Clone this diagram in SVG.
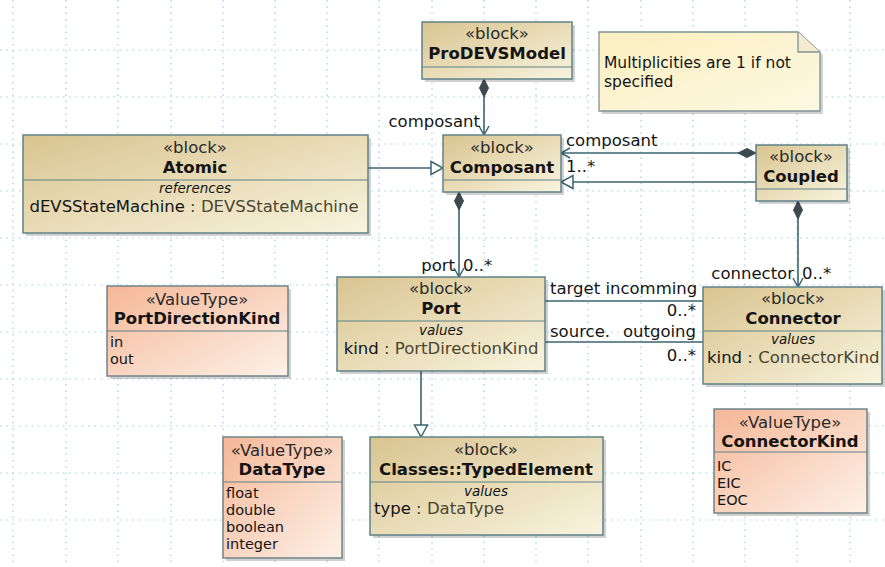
<svg xmlns="http://www.w3.org/2000/svg" width="885" height="567" viewBox="0 0 885 567">
<style>
text{font-family:"DejaVu Sans","Verdana",sans-serif;font-size:16.5px;fill:#141414}
.c{text-anchor:middle}
.e{text-anchor:end}
.b{font-weight:bold}
.st{fill:#2a2a2a}
.it{font-style:italic;font-size:13.5px}
.li{font-size:14.5px}
.nt{font-size:15.5px}
.tp{fill:#4a4632}
.blk{fill:url(#gBlock);stroke:#5f8288;stroke-width:1.5}
.vt{fill:url(#gVT);stroke:#6f8488;stroke-width:1.5}
.sh{fill:#000;opacity:.18}
.dv{stroke:#5f8288;stroke-width:1.2}
.ln{fill:none;stroke:#3b6470;stroke-width:1.6}
.grid line{stroke:#9fcde8;stroke-width:1.2;stroke-dasharray:1.5 4.8}
</style>
<defs>
<linearGradient id="gBlock" x1="0" y1="0" x2="1" y2="1">
<stop offset="0" stop-color="#d9c490"/>
<stop offset="1" stop-color="#f8f4de"/>
</linearGradient>
<linearGradient id="gVT" x1="0" y1="0" x2="1" y2="1">
<stop offset="0" stop-color="#f5b797"/>
<stop offset="1" stop-color="#fdf1e8"/>
</linearGradient>
<linearGradient id="gNote" x1="0" y1="0" x2="1" y2="1">
<stop offset="0" stop-color="#fbefbf"/>
<stop offset="1" stop-color="#fdf8e2"/>
</linearGradient>
<marker id="dia" markerUnits="userSpaceOnUse" orient="auto" refX="0" refY="0" overflow="visible">
<path d="M0,0 L9,-4.5 L18,0 L9,4.5 Z" fill="#3b4a50" stroke="#3b4a50" stroke-width="1"/>
</marker>
<marker id="open" markerUnits="userSpaceOnUse" orient="auto" refX="0" refY="0" overflow="visible">
<path d="M-9,-5 L0,0 L-9,5" fill="none" stroke="#3b6470" stroke-width="1.5"/>
</marker>
<marker id="tri" markerUnits="userSpaceOnUse" orient="auto" refX="0" refY="0" overflow="visible">
<path d="M-12,-6.5 L0,0 L-12,6.5 Z" fill="#ffffff" stroke="#3b6470" stroke-width="1.5"/>
</marker>
</defs>
<rect width="885" height="567" fill="#ffffff"/>
<g class="grid">
<line x1="13" y1="0" x2="13" y2="567"/>
<line x1="66" y1="0" x2="66" y2="567"/>
<line x1="118" y1="0" x2="118" y2="567"/>
<line x1="171" y1="0" x2="171" y2="567"/>
<line x1="223" y1="0" x2="223" y2="567"/>
<line x1="275" y1="0" x2="275" y2="567"/>
<line x1="327" y1="0" x2="327" y2="567"/>
<line x1="379" y1="0" x2="379" y2="567"/>
<line x1="432" y1="0" x2="432" y2="567"/>
<line x1="484" y1="0" x2="484" y2="567"/>
<line x1="536" y1="0" x2="536" y2="567"/>
<line x1="588" y1="0" x2="588" y2="567"/>
<line x1="641" y1="0" x2="641" y2="567"/>
<line x1="693" y1="0" x2="693" y2="567"/>
<line x1="745" y1="0" x2="745" y2="567"/>
<line x1="797" y1="0" x2="797" y2="567"/>
<line x1="850" y1="0" x2="850" y2="567"/>
<line x1="0" y1="50" x2="885" y2="50"/>
<line x1="0" y1="97" x2="885" y2="97"/>
<line x1="0" y1="144" x2="885" y2="144"/>
<line x1="0" y1="191" x2="885" y2="191"/>
<line x1="0" y1="238" x2="885" y2="238"/>
<line x1="0" y1="285" x2="885" y2="285"/>
<line x1="0" y1="332" x2="885" y2="332"/>
<line x1="0" y1="379" x2="885" y2="379"/>
<line x1="0" y1="426" x2="885" y2="426"/>
<line x1="0" y1="473" x2="885" y2="473"/>
<line x1="0" y1="520" x2="885" y2="520"/>
</g>
<g id="connectors">
<path class="ln" d="M484,79 L484,135" marker-start="url(#dia)" marker-end="url(#open)"/>
<text class="e" x="480" y="127">composant</text>
<path class="ln" d="M368,168 L443,168" marker-end="url(#tri)"/>
<path class="ln" d="M756,153 L561,153" marker-start="url(#dia)" marker-end="url(#open)"/>
<text x="566" y="146">composant</text>
<text x="566" y="172">1..*</text>
<path class="ln" d="M756,182 L561,182" marker-end="url(#tri)"/>
<path class="ln" d="M459,192 L459,277" marker-start="url(#dia)" marker-end="url(#open)"/>
<text class="e" x="455" y="271">port</text>
<text x="463" y="271">0..*</text>
<path class="ln" d="M798,201 L798,287" marker-start="url(#dia)" marker-end="url(#open)"/>
<text class="e" x="794" y="279">connector</text>
<text x="802" y="279">0..*</text>
<path class="ln" d="M545,301 L703,301"/>
<text x="550" y="294">target incomming</text>
<text class="e" x="696" y="316">0..*</text>
<path class="ln" d="M545,342 L703,342"/>
<text x="550" y="337">source.</text>
<text class="e" x="696" y="337">outgoing</text>
<text class="e" x="696" y="361">0..*</text>
<path class="ln" d="M421,371 L421,437" marker-end="url(#tri)"/>
</g>
<g id="ProDEVSModel">
<rect class="sh" x="425" y="25" width="150" height="57"/>
<rect class="blk" x="422" y="22" width="150" height="57"/>
<line class="dv" x1="422" y1="67" x2="572" y2="67"/>
<text class="c st" x="497" y="39">«block»</text>
<text class="c b" x="497" y="59">ProDEVSModel</text>
</g>
<g id="note">
<path class="sh" d="M602,35 L801,35 L823,55 L823,114 L602,114 Z"/>
<path d="M599,32 L798,32 L820,52 L820,111 L599,111 Z" fill="url(#gNote)" stroke="#7f9397" stroke-width="1.3"/>
<path d="M798,32 L798,52 L820,52" fill="#f3ead0" stroke="#7f9397" stroke-width="1.3"/>
<text class="nt" x="604" y="68">Multiplicities are 1 if not</text>
<text class="nt" x="604" y="87">specified</text>
</g>
<g id="Atomic">
<rect class="sh" x="26" y="138" width="345" height="98"/>
<rect class="blk" x="23" y="135" width="345" height="98"/>
<line class="dv" x1="23" y1="180" x2="368" y2="180"/>
<text class="c st" x="195" y="153">«block»</text>
<text class="c b" x="195" y="173">Atomic</text>
<text class="c it" x="195" y="193">references</text>
<text class="c" x="194" y="212">dEVSStateMachine<tspan class="tp"> : DEVSStateMachine</tspan></text>
</g>
<g id="Composant">
<rect class="sh" x="446" y="138" width="118" height="57"/>
<rect class="blk" x="443" y="135" width="118" height="57"/>
<line class="dv" x1="443" y1="180" x2="561" y2="180"/>
<text class="c st" x="502" y="153">«block»</text>
<text class="c b" x="502" y="173">Composant</text>
</g>
<g id="Coupled">
<rect class="sh" x="759" y="148" width="91" height="56"/>
<rect class="blk" x="756" y="145" width="91" height="56"/>
<line class="dv" x1="756" y1="189" x2="847" y2="189"/>
<text class="c st" x="801" y="162">«block»</text>
<text class="c b" x="801" y="182">Coupled</text>
</g>
<g id="PortDirectionKind">
<rect class="sh" x="110" y="289" width="181" height="90"/>
<rect class="vt" x="107" y="286" width="181" height="90"/>
<line class="dv" x1="107" y1="331" x2="288" y2="331"/>
<text class="c st" x="197" y="305">«ValueType»</text>
<text class="c b" x="197" y="324">PortDirectionKind</text>
<text class="li" x="110" y="347">in</text>
<text class="li" x="110" y="364">out</text>
</g>
<g id="Port">
<rect class="sh" x="340" y="280" width="208" height="94"/>
<rect class="blk" x="337" y="277" width="208" height="94"/>
<line class="dv" x1="337" y1="321" x2="545" y2="321"/>
<text class="c st" x="441" y="294">«block»</text>
<text class="c b" x="441" y="314">Port</text>
<text class="c it" x="441" y="335">values</text>
<text class="c" x="441" y="354">kind<tspan class="tp"> : PortDirectionKind</tspan></text>
</g>
<g id="Connector">
<rect class="sh" x="706" y="290" width="179" height="97"/>
<rect class="blk" x="703" y="287" width="179" height="97"/>
<line class="dv" x1="703" y1="331" x2="882" y2="331"/>
<text class="c st" x="793" y="304">«block»</text>
<text class="c b" x="793" y="324">Connector</text>
<text class="c it" x="793" y="344">values</text>
<text x="707" y="363">kind<tspan class="tp"> : ConnectorKind</tspan></text>
</g>
<g id="ConnectorKind">
<rect class="sh" x="717" y="412" width="153" height="104"/>
<rect class="vt" x="714" y="409" width="153" height="104"/>
<line class="dv" x1="714" y1="452" x2="867" y2="452"/>
<text class="c st" x="790" y="428">«ValueType»</text>
<text class="c b" x="790" y="447">ConnectorKind</text>
<text class="li" x="717" y="471">IC</text>
<text class="li" x="717" y="488">EIC</text>
<text class="li" x="717" y="505">EOC</text>
</g>
<g id="DataType">
<rect class="sh" x="226" y="440" width="119" height="121"/>
<rect class="vt" x="223" y="437" width="119" height="121"/>
<line class="dv" x1="223" y1="482" x2="342" y2="482"/>
<text class="c st" x="282" y="456">«ValueType»</text>
<text class="c b" x="282" y="475">DataType</text>
<text class="li" x="226" y="498">float</text>
<text class="li" x="226" y="515">double</text>
<text class="li" x="226" y="532">boolean</text>
<text class="li" x="226" y="549">integer</text>
</g>
<g id="TypedElement">
<rect class="sh" x="373" y="440" width="233" height="98"/>
<rect class="blk" x="370" y="437" width="233" height="98"/>
<line class="dv" x1="370" y1="482" x2="603" y2="482"/>
<text class="c st" x="486" y="455">«block»</text>
<text class="c b" x="486" y="475">Classes::TypedElement</text>
<text class="c it" x="486" y="496">values</text>
<text x="374" y="514">type<tspan class="tp"> : DataType</tspan></text>
</g>
</svg>
